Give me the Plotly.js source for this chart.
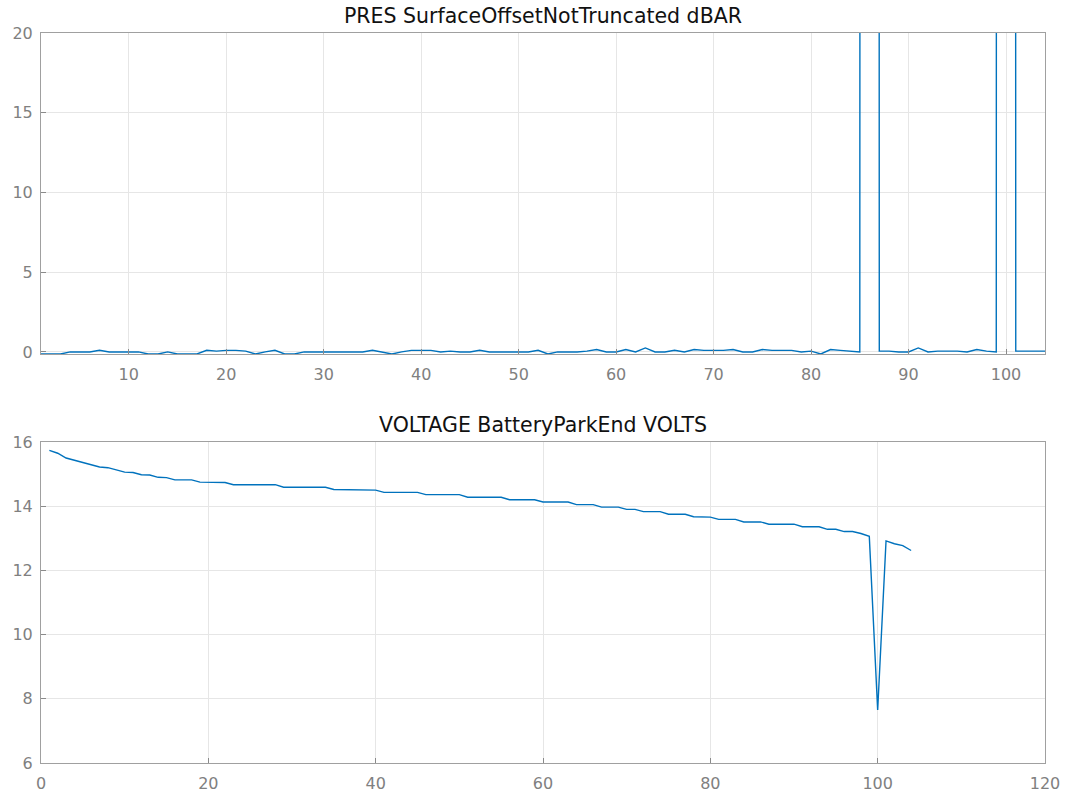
<!DOCTYPE html>
<html>
<head>
<meta charset="utf-8">
<script src="https://cdn.plot.ly/plotly-3.0.1.min.js"></script>
<style>html,body{margin:0;padding:0;background:#fff;}#chart{width:1070px;height:800px;}</style>
</head>
<body>
<div id="chart"></div>
<script>
// Profile (cycle) numbers
const cycles = [];
for (let i = 1; i <= 104; i++) cycles.push(i);

// PRES SurfaceOffsetNotTruncated (dBAR); cycles 86 and 100 are far off-scale
const presOffset = [
  -0.13, -0.13, -0.13, 0, 0, 0, 0.1, 0, 0, 0,
  0, -0.13, -0.13, 0, -0.13, -0.13, -0.13, 0.1, 0.05, 0.1,
  0.1, 0.05, -0.13, 0, 0.1, -0.13, -0.13, 0, 0, 0,
  0, 0, 0, 0, 0.1, 0, -0.13, 0, 0.1, 0.1,
  0.1, 0, 0.05, 0, 0, 0.1, 0, 0, 0, 0,
  0, 0.1, -0.13, 0, 0, 0, 0.05, 0.15, 0, 0,
  0.15, 0, 0.25, 0, 0, 0.1, 0, 0.15, 0.1, 0.1,
  0.1, 0.15, 0, 0, 0.15, 0.1, 0.1, 0.1, 0, 0.05,
  -0.13, 0.15, 0.1, 0.05, 0, 2000, 0.05, 0.05, 0, 0,
  0.25, 0, 0.05, 0.05, 0.05, 0, 0.15, 0.05, 0, 2000,
  0.05, 0.05, 0.05, 0.05
];

// VOLTAGE BatteryParkEnd (VOLTS)
const voltage = [
  15.74, 15.65, 15.50, 15.43, 15.36, 15.30, 15.22, 15.20, 15.13, 15.06,
  15.05, 14.98, 14.97, 14.90, 14.89, 14.82, 14.82, 14.82, 14.75, 14.74,
  14.74, 14.74, 14.67, 14.67, 14.67, 14.67, 14.67, 14.67, 14.59, 14.59,
  14.59, 14.59, 14.59, 14.59, 14.52, 14.52, 14.52, 14.52, 14.52, 14.50,
  14.43, 14.43, 14.43, 14.43, 14.43, 14.36, 14.36, 14.36, 14.36, 14.36,
  14.28, 14.28, 14.28, 14.28, 14.28, 14.20, 14.20, 14.20, 14.20, 14.13,
  14.13, 14.13, 14.13, 14.05, 14.05, 14.05, 13.97, 13.97, 13.97, 13.90,
  13.90, 13.83, 13.83, 13.83, 13.75, 13.75, 13.75, 13.67, 13.67, 13.66,
  13.59, 13.59, 13.59, 13.51, 13.51, 13.51, 13.44, 13.44, 13.44, 13.44,
  13.36, 13.36, 13.36, 13.28, 13.28, 13.21, 13.21, 13.15, 13.06, 7.65,
  12.92, 12.83, 12.77, 12.62
];

const titles = ['PRES SurfaceOffsetNotTruncated dBAR', 'VOLTAGE BatteryParkEnd VOLTS'];
const topTicks = [10, 20, 30, 40, 50, 60, 70, 80, 90, 100];
const topYTicks = [0, 5, 10, 15, 20];
const botTicks = [0, 20, 40, 60, 80, 100, 120];
const botYTicks = [6, 8, 10, 12, 14, 16];

const lineColor = '#0072BD';
const font = 'DejaVu Sans, Liberation Sans, Arial, sans-serif';

const axisCommon = {
  showline: true, mirror: true, linecolor: '#a0a0a0', linewidth: 1,
  showgrid: true, gridcolor: '#e6e6e6', gridwidth: 1,
  ticks: 'inside', ticklen: 5, tickcolor: '#8a8a8a', tickwidth: 1,
  zeroline: false, tickfont: {family: font, size: 16, color: '#808080'},
  fixedrange: true
};

const traces = [
  {x: cycles, y: presOffset, type: 'scatter', mode: 'lines', line: {color: lineColor, width: 1.4}, xaxis: 'x', yaxis: 'y', hoverinfo: 'x+y'},
  {x: cycles, y: voltage, type: 'scatter', mode: 'lines', line: {color: lineColor, width: 1.4}, xaxis: 'x2', yaxis: 'y2', hoverinfo: 'x+y'}
];

const layout = {
  width: 1070, height: 800,
  margin: {l: 41, r: 25, t: 0, b: 37},
  paper_bgcolor: '#ffffff', plot_bgcolor: '#ffffff',
  showlegend: false,
  font: {family: font},
  xaxis: Object.assign({}, axisCommon, {domain: [0, 1], anchor: 'y', range: [1, 104], tickvals: topTicks, ticklabelstandoff: 6}),
  yaxis: Object.assign({}, axisCommon, {domain: [(763 - 354) / 763, (763 - 33) / 763], anchor: 'x', range: [-0.13, 20], tickvals: topYTicks, ticklabelstandoff: 4}),
  xaxis2: Object.assign({}, axisCommon, {domain: [0, 1], anchor: 'y2', range: [0, 120], tickvals: botTicks, ticklabelstandoff: 6}),
  yaxis2: Object.assign({}, axisCommon, {domain: [0, (763 - 442) / 763], anchor: 'x2', range: [6, 16], tickvals: botYTicks, ticklabelstandoff: 4}),
  annotations: [
    {text: titles[0], xref: 'paper', yref: 'paper', x: 0.5, y: (763 - 33) / 763, yanchor: 'bottom', xanchor: 'center', yshift: 3, showarrow: false, font: {family: font, size: 20.5, color: '#111111'}},
    {text: titles[1], xref: 'paper', yref: 'paper', x: 0.5, y: (763 - 442) / 763, yanchor: 'bottom', xanchor: 'center', yshift: 3, showarrow: false, font: {family: font, size: 20.5, color: '#111111'}}
  ]
};

Plotly.newPlot('chart', traces, layout, {displayModeBar: false, staticPlot: true});
</script>
</body>
</html>
